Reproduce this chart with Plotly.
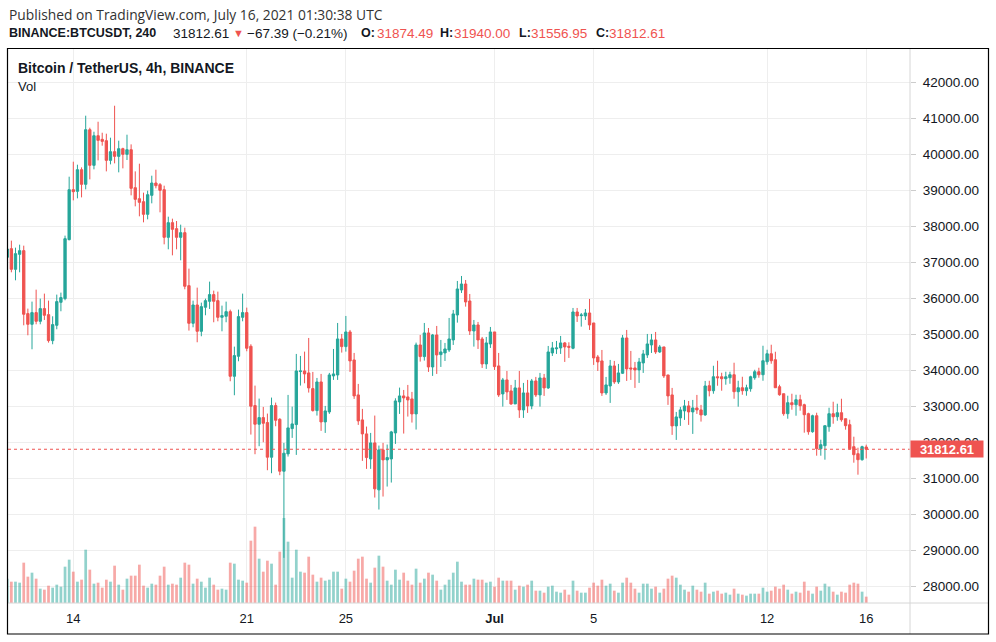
import plotly.graph_objects as go
import pandas as pd

# ---------------- data ----------------
start_time = "2021-06-11 08:00"   # first (partially visible) 4h candle
bar_hours = 4

open_ = [37137,37377,36804,37220,37322,35575,35279,35603,35362,35714,
         35547,34826,35251,35889,35991,37627,39013,38967,39567,39161,
         40677,39688,40510,40409,40372,39826,40067,39937,40150,39993,
         40122,39068,38763,38680,38329,38856,39198,39152,39013,37691,
         38098,37932,37691,37821,36351,35307,35815,35085,35751,35917,
         36102,35935,35473,35501,35630,33837,34392,35473,35603,34669,
         33024,32507,32691,32553,31592,33024,32645,31203,31684,32386,
         32497,33967,33985,33930,33495,32885,33680,32571,32848,33847,
         33874,34872,34660,35067,34290,33320,32627,32239,31545,31989,
         30686,31795,31518,31545,32266,33126,33292,33264,33209,32793,
         34706,34383,35039,34096,34983,34438,34484,34567,34845,35538,
         36231,36397,35926,35094,35261,34872,34179,34734,35067,34124,
         33348,33736,33431,33070,33514,32904,33375,33015,33708,33320,
         33791,33514,34484,34600,34623,34762,34669,34614,35621,35519,
         35510,35593,35316,34373,34263,33375,33569,34124,33680,33921,
         34900,34068,34068,34013,34207,34429,34706,34845,34512,34651,
         33874,33320,32460,32682,32876,33015,32848,32959,32904,32765,
         33575,33436,33824,33824,33769,33797,33880,33409,33519,33436,
         33492,33797,33963,33880,34240,34462,34296,33547,33353,32799,
         33104,33048,33187,33048,32799,32299,32743,31828,31911,32438,
         32799,32715,32826,32660,32494,31884,31690,31523,31874.49]

high = [37430,37599,37405,37488,37460,35714,35908,36240,35991,36130,
        35935,35501,36102,36157,37738,39373,39789,39706,39632,41065,
        40732,40621,40898,40593,40566,40455,41342,40372,40177,40538,
        40270,39521,39734,38930,38985,39401,39567,39198,39124,38264,
        38209,38144,38043,37959,36823,35935,36296,35880,35991,36462,
        36213,36185,35797,35908,35686,34660,35686,36130,35741,34725,
        33578,33218,32987,32802,33246,33107,32673,31989,33320,32996,
        34457,34401,34521,34900,33958,33791,33902,33015,33930,34595,
        35316,35011,35510,35122,34484,33625,32932,32442,32266,32747,
        31915,31989,31943,32322,33227,33523,33458,33597,33403,34771,
        34983,35316,35177,35011,35233,34845,34762,35455,35677,36481,
        36619,36508,36120,35399,35344,34928,34928,35205,35067,34484,
        33791,33985,33597,33736,33985,33653,33736,33763,33819,33930,
        33902,34678,34789,34817,34956,34789,34780,35732,35732,35593,
        35704,35982,35316,34429,34567,33819,34290,34263,34179,34983,
        35122,34540,34235,34346,34567,35011,35011,35067,34706,34651,
        33874,33514,32848,32987,33181,33153,33181,33320,33043,33708,
        33713,34129,34268,33935,33963,33963,34213,33713,33824,33603,
        33852,34018,34074,34684,34573,34712,34518,33603,33353,33298,
        33353,33325,33325,33076,32826,32771,32826,32078,32466,32965,
        33131,33076,33214,32660,32632,32161,31856,31911,31940.00]

low = [37100,36721,36499,36721,35251,34974,34586,35279,35279,35399,
       34771,34725,35141,35640,35945,37608,38717,38773,38800,39022,
       39299,39577,39826,40233,39521,39715,39743,39494,39604,39836,
       38856,38551,38274,38107,38190,38634,39050,38385,37497,37359,
       37192,37359,37054,36250,35104,35196,34780,34947,35529,35704,
       35335,35362,35085,35335,33699,33311,34253,35362,34531,32220,
       31675,31897,32007,31231,31148,32451,31093,28800,31610,32128,
       31656,33579,33643,33385,32858,32747,32322,32266,32793,33736,
       33736,34494,34521,33958,33209,32488,31490,31268,31268,30473,
       30141,30501,30778,30889,31961,32793,32248,32719,32553,32359,
       34244,34272,33958,33847,33902,34096,34262,34512,34706,35325,
       36148,35769,34983,34660,34595,34068,34041,34623,34013,33264,
       32996,33181,33043,33070,32682,32682,32821,32922,33264,32996,
       33292,33486,34401,34457,34457,34235,34346,34586,35344,35214,
       35399,35122,34152,33985,33292,33320,33098,33625,33625,33902,
       33708,33736,33514,33653,33930,34346,34484,34457,34484,33791,
       33043,32211,32072,32460,32627,32488,32238,32793,32580,32738,
       33279,33353,33575,33436,33603,33630,33214,32993,33325,33298,
       33409,33741,33797,33713,34157,34185,33519,33298,32743,32660,
       32909,32743,32882,32272,32216,32272,31634,31634,31523,32299,
       32521,32604,32577,32355,31800,31440,31107,31495,31556.95]

close = [37368,36804,37239,37322,35557,35279,35603,35362,35714,35529,
         34826,35270,35908,36019,37654,39013,38958,39567,39161,40677,
         39688,40510,40381,40353,39826,40067,39937,40150,39993,40122,
         39050,38745,38662,38329,38874,39198,39124,38995,37691,38098,
         37913,37691,37821,36333,35307,35815,35085,35769,35935,36102,
         35917,35473,35520,35630,33837,34410,35492,35603,34614,33006,
         32507,32691,32534,31592,33024,32617,31203,31703,32405,32516,
         33985,33985,33902,33514,32885,33680,32571,32876,33874,33902,
         34872,34660,35067,34263,33292,32599,32239,31582,31989,30714,
         31795,31518,31582,32294,33153,33292,33237,33181,32793,34706,
         34383,35039,34096,34983,34429,34512,34595,34872,35566,36259,
         36397,35898,35094,35261,34845,34179,34762,35067,34105,33320,
         33736,33403,33070,33514,32904,33375,33015,33708,33320,33791,
         33514,34512,34623,34623,34762,34651,34641,35621,35510,35538,
         35593,35261,34346,34235,33375,33597,34124,33680,33930,34900,
         34041,34041,34013,34235,34457,34734,34845,34512,34651,33847,
         33292,32460,32710,32904,33015,32848,32959,32904,32765,33569,
         33436,33824,33797,33769,33824,33880,33409,33519,33436,33519,
         33824,33963,33880,34268,34462,34268,33519,33325,32799,33104,
         33048,33187,33020,32771,32299,32743,31828,31939,32466,32799,
         32715,32826,32632,32466,31828,31662,31523,31884,31812.61]

volume = [7300,6400,6400,6100,12100,7900,9100,7300,4300,4000,
          5200,4600,5500,4900,10900,13000,9400,6400,7000,16000,
          10000,5800,6100,4600,7000,6400,11200,5500,4000,7300,
          8200,8200,11500,5200,4600,5800,5500,8200,10900,5500,
          5800,5500,7600,12100,11500,5800,7300,6400,4600,7600,
          5500,4000,4300,4000,12100,11800,7000,6700,6100,18700,
          22900,13300,9400,12700,11800,5500,15400,25500,18400,7600,
          16000,9400,9100,13900,8500,6400,7600,6700,7000,9400,
          9400,4300,7300,6400,9700,13300,13900,7300,6100,10600,
          14200,10900,6700,5500,10000,7000,9100,6700,5500,10300,
          6100,7300,9100,8500,6700,4000,5500,7000,9100,12400,
          6400,5500,5500,7300,7000,7000,6100,6400,4900,7600,
          6700,6700,6700,4000,5200,4900,5500,6700,3700,3700,
          3100,4900,5200,3400,3100,4000,2500,6700,3700,3100,
          3100,4600,6100,5200,7000,5200,5800,3700,3100,6100,
          7600,6100,4300,3100,5800,5800,4300,4900,3100,4300,
          7300,8200,7600,5500,4000,3400,5200,4000,3400,6100,
          2800,3400,3700,2800,3100,2500,4300,2800,2500,2200,
          2800,2800,2800,4600,3400,3700,4900,4300,5500,4000,
          2800,3400,3100,6400,3700,2800,4900,3700,5800,4900,
          3400,2500,3400,3100,5500,6100,5800,3400,1900]

date_ticks = ["2021-06-14", "2021-06-21", "2021-06-25", "2021-07-01",
              "2021-07-05", "2021-07-12", "2021-07-16"]
date_tick_text = ["14", "21", "25", "<b>Jul</b>", "5", "12", "16"]

last_price = 31812.61
last_change = "\u221267.39 (\u22120.21%)"
last_ohlc = [("O:", "31874.49"), ("H:", "31940.00"),
             ("L:", "31556.95"), ("C:", "31812.61")]

# ---------------- styling ----------------
GREEN = "#26a69a"
RED = "#ef5350"
GREEN_V = "rgba(38,166,154,0.5)"
RED_V = "rgba(239,83,80,0.5)"
TXT = "#131722"
GRID = "#eeeeee"
FONT = "Liberation Sans, Arial, sans-serif"
FONT2 = "Open Sans, Liberation Sans, sans-serif"

W, H = 996, 642
L, R, T, B = 8, 86, 48, 39
PW = W - L - R
PH = H - T - B


def xp(px):
    return (px - L) / PW


def yp(py):
    return (H - B - py) / PH


times = pd.date_range(start_time, periods=len(close), freq=f"{bar_hours}h")
vol_colors = [GREEN_V if c >= o else RED_V for o, c in zip(open_, close)]

fig = go.Figure()
fig.add_trace(go.Bar(
    x=times, y=volume, marker=dict(color=vol_colors, line=dict(width=0)),
    width=0.66 * bar_hours * 3600 * 1000, yaxis="y", hoverinfo="skip"))
fig.add_trace(go.Candlestick(
    x=times, open=open_, high=high, low=low, close=close, yaxis="y2",
    increasing=dict(line=dict(color=GREEN, width=1), fillcolor=GREEN),
    decreasing=dict(line=dict(color=RED, width=1), fillcolor=RED),
    whiskerwidth=0))

fig.update_layout(
    width=W, height=H,
    margin=dict(l=L, r=R, t=T, b=B, pad=0),
    paper_bgcolor="white", plot_bgcolor="white",
    showlegend=False,
    boxgap=0.25, boxgroupgap=0.25,
    font=dict(family=FONT, color=TXT, size=13),
    xaxis=dict(
        type="date", range=["2021-06-11 08:45", "2021-07-17 18:24"],
        tickvals=date_ticks, ticktext=date_tick_text,
        showgrid=True, gridcolor=GRID, gridwidth=1,
        ticks="", ticklabelstandoff=6, tickfont=dict(size=13, color=TXT),
        zeroline=False, showline=False, rangeslider=dict(visible=False),
        fixedrange=True),
    yaxis=dict(range=[0, 166500], visible=False, fixedrange=True,
               showgrid=False, zeroline=False),
    yaxis2=dict(
        overlaying="y", side="right", range=[27548, 42943],
        tick0=0, dtick=1000, tickformat=".2f",
        showgrid=True, gridcolor=GRID, gridwidth=1,
        ticks="outside", ticklen=5, tickcolor="#cccccc",
        ticklabelstandoff=4,
        tickfont=dict(size=13.5, color=TXT), zeroline=False, showline=False,
        fixedrange=True),
)

shapes = []
# last price dotted line
shapes.append(dict(type="line", xref="paper", yref="y2", x0=0, x1=1,
                   y0=last_price, y1=last_price,
                   line=dict(color=RED, width=1, dash="dot")))
# axis separators
shapes.append(dict(type="line", xref="paper", yref="paper",
                   x0=xp(7), x1=xp(988), y0=yp(603), y1=yp(603),
                   line=dict(color="#d6d6d6", width=1)))
shapes.append(dict(type="line", xref="paper", yref="paper",
                   x0=xp(910), x1=xp(910), y0=yp(634), y1=yp(48),
                   line=dict(color="#d6d6d6", width=1)))
# outer frame
shapes.append(dict(type="rect", xref="paper", yref="paper",
                   x0=xp(7.5), x1=xp(988.5), y0=yp(634), y1=yp(48.5),
                   line=dict(color="#000000", width=1.2)))
fig.update_layout(shapes=shapes)


def txt(text, px, py, size, color=TXT, family=FONT):
    return dict(text=text, x=xp(px), y=yp(py), xref="paper", yref="paper",
                xanchor="left", yanchor="middle", showarrow=False,
                font=dict(size=size, color=color, family=family))


annotations = [
    txt("Published on TradingView.com, July 16, 2021 01:30:38 UTC",
        7, 15, 13.8, "#333333", FONT2),
    txt("<b>BINANCE:BTCUSDT, 240</b>", 7, 33, 12.5),
    txt("%.2f" % last_price, 171, 33, 13.5),
    txt("▼", 231, 33, 11, RED),
    txt(last_change, 245, 33, 13.5),
]
ohlc_x = [(359, 375), (438, 452), (517, 529), (594, 607)]
for (lab, val), (lx, vx) in zip(last_ohlc, ohlc_x):
    annotations.append(txt("<b>%s</b>" % lab, lx, 33, 12.5))
    annotations.append(txt(val, vx, 33, 13.5, RED))

annotations += [
    txt("<b>Bitcoin / TetherUS, 4h, BINANCE</b>", 16, 68, 14),
    txt("Vol", 16, 87, 13),
    dict(text="<b>%.2f</b>" % last_price, x=1, y=last_price,
         xref="paper", yref="y2", xanchor="left", yanchor="middle",
         showarrow=False, bgcolor=RED, borderpad=1, width=70, height=14,
         font=dict(size=13, color="white", family=FONT)),
]
fig.update_layout(annotations=annotations)

fig.write_html("out.html", config={"displayModeBar": False},
               post_script="document.body.style.margin='0px';")
